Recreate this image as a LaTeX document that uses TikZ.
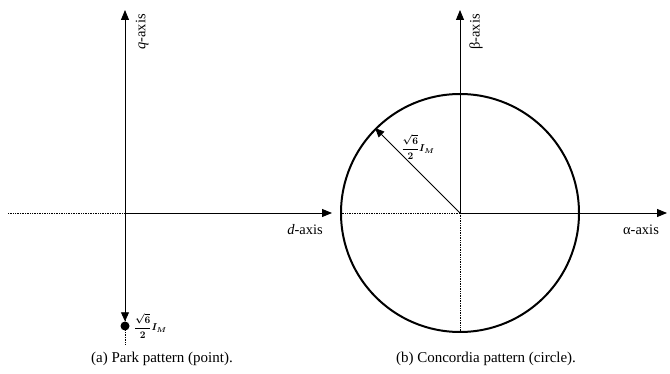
\documentclass[tikz,border=0pt]{standalone}
\usepackage{amsmath}
\usepackage{fontspec}
\setmainfont{Liberation Serif}
\usetikzlibrary{arrows.meta}

\begin{document}
\begin{tikzpicture}[x=1pt, y=-1pt,
  axis/.style={-{Triangle[length=10pt, width=8pt]}, line width=0.9pt},
  neg/.style={densely dotted, line width=0.7pt},
  vec/.style={-{Triangle[length=9pt, width=8pt]}, line width=0.9pt},
  alab/.style={font=\fontsize{14.5}{17}\selectfont, inner sep=1pt},
  mlab/.style={font=\fontsize{10}{12}\selectfont, inner sep=1pt},
  captxt/.style={font=\fontsize{15}{18}\selectfont},
  dotpt/.style={circle, fill=black, inner sep=0pt, minimum size=9pt},
]
\useasboundingbox (0,0) rectangle (670,374);

% ---------------- (a) Park pattern ----------------
\coordinate (O1)    at (125,213);
\coordinate (qtop)  at (125,10);
\coordinate (dend)  at (332,213);
\coordinate (dleft) at (8,213);
\coordinate (qbot)  at (125,344);
\node[dotpt] (P) at (125,326) {};

\draw[neg] (dleft) -- (O1);
\draw[neg] (O1) -- (qbot);
\draw[axis] (O1) -- (qtop);
\draw[axis] (O1) -- (dend);
\draw[vec] (O1) -- (P.north);

\node[alab, rotate=90] (qlab) at (142,32) {\textit{q}-axis};
\node[alab] (dlab) at (305,230) {\textit{d}-axis};
\node[mlab, right=3pt] (Plab) at (P.east) {$\boldsymbol{\dfrac{\sqrt{6}}{2}I_M}$};

% ---------------- (b) Concordia pattern ----------------
\coordinate (O2)     at (460,213);
\coordinate (btop)   at (460,10);
\coordinate (aend)   at (667,213);
\node[circle, draw, line width=2pt, minimum size=238pt, inner sep=0pt] (C) at (O2) {};

\draw[neg] (C.west) -- (O2);
\draw[neg] (O2) -- (C.south);
\draw[axis] (O2) -- (btop);
\draw[axis] (O2) -- (aend);
\draw[vec] (O2) -- (C.135);

\node[alab, rotate=90] (blab) at (476,32) {β-axis};
\node[alab] (alpha) at (641,230) {α-axis};
\node[mlab] (Rlab) at (418,147) {$\boldsymbol{\dfrac{\sqrt{6}}{2}I_M}$};

% ---------------- captions ----------------
\node[captxt] (capa) at (162,359) {(a) Park pattern (point).};
\node[captxt] (capb) at (486,359) {(b) Concordia pattern (circle).};
\end{tikzpicture}
\end{document}
